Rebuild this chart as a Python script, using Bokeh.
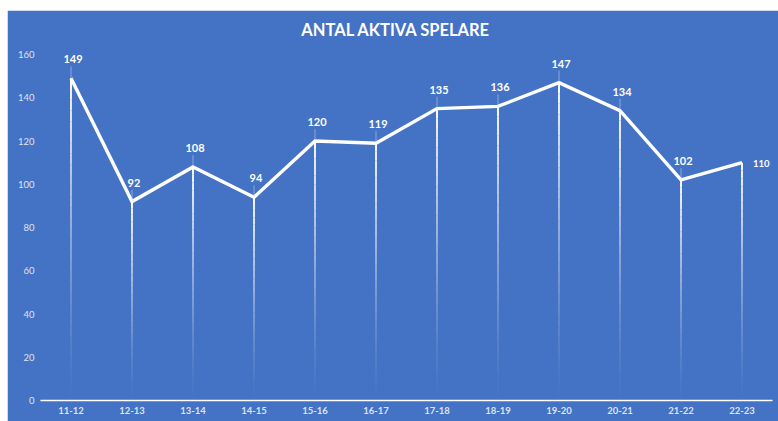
from bokeh.plotting import figure
from bokeh.models import Range1d, FactorRange, Label, ColumnDataSource, FixedTicker
from bokeh.core.properties import value
from bokeh.embed import file_html
from bokeh.resources import INLINE

seasons = ["11-12", "12-13", "13-14", "14-15", "15-16", "16-17",
           "17-18", "18-19", "19-20", "20-21", "21-22", "22-23"]
players = [149, 92, 108, 94, 120, 119, 135, 136, 147, 134, 102, 110]
y_ticks = [0, 20, 40, 60, 80, 100, 120, 140, 160]
title_text = "ANTAL AKTIVA SPELARE"

BG = "#4472C4"
FONT = "Lato"

W, H = 771, 411
BL, BR, BT, BB = 33, 6, 12, 21
p = figure(width=W, height=H, output_backend="svg", toolbar_location=None,
           x_range=FactorRange(*seasons, range_padding=0),
           y_range=Range1d(0, 174.8),
           min_border_left=BL, min_border_right=BR,
           min_border_top=BT, min_border_bottom=BB)
p.margin = (10, 0, 0, 7)
p.background_fill_color = BG
p.border_fill_color = BG
p.outline_line_color = BG
p.outline_line_width = 1
p.grid.grid_line_color = None

# drop lines with fading gradient (segments of decreasing alpha)
N = 30
xs, y0s, y1s, alphas = [], [], [], []
for s, v in zip(seasons, players):
    for i in range(N):
        a = v * i / N
        b = v * (i + 1) / N
        xs.append(s)
        y0s.append(a)
        y1s.append(b)
        alphas.append(0.01 + 0.96 * ((i + 0.5) / N) ** 1.4)
p.segment(x0=xs, y0=y0s, x1=xs, y1=y1s, line_color="white",
          line_alpha=alphas, line_width=2)

# main line
p.line(x=seasons, y=players, line_color="white", line_width=3.4,
       line_join="miter")

# leader lines
p.segment(x0=seasons[:-1], y0=players[:-1], x1=seasons[:-1],
          y1=[v + 5.5 for v in players[:-1]], line_color="#C9D6EE",
          line_alpha=0.55, line_width=1)

# data labels
src = ColumnDataSource(dict(x=seasons[:-1], y=players[:-1],
                            t=[str(v) for v in players[:-1]]))
p.text(x="x", y="y", text="t", source=src, text_color="white",
       text_font=value(FONT), text_font_size="11px", text_font_style="bold",
       text_align="center", text_baseline="bottom", y_offset=-15, x_offset=2)
p.text(x=[seasons[-1]], y=[players[-1]], text=[str(players[-1])],
       text_color="white", text_font=value(FONT), text_font_size="9.5px",
       text_font_style="bold", text_align="left", text_baseline="middle",
       x_offset=11, y_offset=1)

# axes
p.yaxis.ticker = FixedTicker(ticks=y_ticks)
p.yaxis.axis_line_color = None
p.yaxis.major_tick_line_color = None
p.yaxis.minor_tick_line_color = None
p.yaxis.major_tick_out = 0
p.yaxis.major_label_text_color = "#DCE4F3"
p.yaxis.major_label_text_font = FONT
p.yaxis.major_label_text_font_size = "9.5px"
p.yaxis.major_label_standoff = 6

p.xaxis.axis_line_color = "white"
p.xaxis.axis_line_width = 1.5
p.xaxis.major_tick_line_color = None
p.xaxis.minor_tick_line_color = None
p.xaxis.major_tick_out = 0
p.xaxis.major_label_text_color = "#DCE4F3"
p.xaxis.major_label_text_font = FONT
p.xaxis.major_label_text_font_size = "9.5px"
p.xaxis.major_label_text_font_style = "bold"
p.xaxis.major_label_standoff = 6

# title (screen coords are relative to the plot frame)
frame_h = H - BT - BB
p.add_layout(Label(x=388.5 - BL, y=frame_h + BT - 19, x_units="screen",
                   y_units="screen", text=title_text, text_color="white",
                   text_font=FONT, text_font_size="16.5px",
                   text_font_style="bold", text_align="center",
                   text_baseline="middle"))

open("out.html", "w").write(file_html(p, INLINE))
